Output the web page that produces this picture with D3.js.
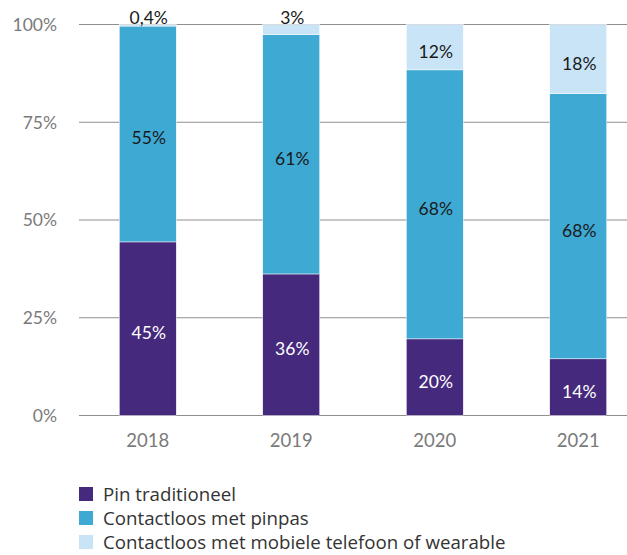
<!DOCTYPE html>
<html><head><meta charset="utf-8">
<script src="https://cdn.jsdelivr.net/npm/d3@7"></script>
<style>body{margin:0;background:#fff;}svg{display:block;}</style>
</head><body>
<svg id="c" width="627" height="555"></svg>
<script>
const years = ["2018", "2019", "2020", "2021"];
const seriesNames = ["Pin traditioneel", "Contactloos met pinpas", "Contactloos met mobiele telefoon of wearable"];
const pinTraditioneel = [44.4, 36.2, 19.6, 14.5];
const contactloosPinpas = [55.2, 61.2, 68.8, 67.8];
const contactloosMobiel = [0.4, 2.6, 11.6, 17.7];
const labelPin = ["45%", "36%", "20%", "14%"];
const labelPinpas = ["55%", "61%", "68%", "68%"];
const labelMobiel = ["0,4%", "3%", "12%", "18%"];
const yTicks = [0, 25, 50, 75, 100];
const colors = ["#45297d", "#3ea9d3", "#c8e4f6"];
const textColors = ["#ffffff", "#1a1a1a", "#1a1a1a"];

const svg = d3.select("#c");
const font = "Lato, 'Open Sans', sans-serif";
const y = d3.scaleLinear().domain([0, 100]).range([415.5, 24.5]);
const x = d3.scaleBand().domain(years).range([76, 650]).paddingInner(0.603).paddingOuter(0.3015);

// gridlines
svg.append("g").selectAll("line").data(yTicks).join("line")
  .attr("x1", 79).attr("x2", 627)
  .attr("y1", d => y(d)).attr("y2", d => y(d))
  .attr("stroke", "#8f8f8f").attr("stroke-width", 1.2);
svg.append("g").selectAll("text").data(yTicks).join("text")
  .attr("x", 57).attr("y", d => y(d)).attr("dy", "0.36em")
  .attr("text-anchor", "end").attr("fill", "#7a7a7a")
  .style("font-family", font).style("font-size", "17.5px")
  .text(d => d + "%");

const rows = years.map((yr, i) => ({year: yr, s0: pinTraditioneel[i], s1: contactloosPinpas[i], s2: contactloosMobiel[i]}));
const labels = [labelPin, labelPinpas, labelMobiel];
const stack = d3.stack().keys(["s0", "s1", "s2"])(rows);

const g = svg.append("g");
stack.forEach((layer, k) => {
  g.append("g").selectAll("rect").data(layer).join("rect")
    .attr("x", d => x(d.data.year)).attr("width", x.bandwidth())
    .attr("y", d => y(d[1])).attr("height", d => y(d[0]) - y(d[1]))
    .attr("fill", colors[k]).attr("stroke", "#ffffff").attr("stroke-width", 0.5);
});
stack.forEach((layer, k) => {
  g.append("g").selectAll("text").data(layer).join("text")
    .attr("x", d => x(d.data.year) + x.bandwidth() / 2 + 1)
    .attr("y", d => (d[1] - d[0]) < 5 ? y(d[1]) - 0.5 : (y(d[0]) + y(d[1])) / 2 + 10.5)
    .attr("text-anchor", "middle")
    .attr("fill", d => (d[1] - d[0]) < 5 ? "#1a1a1a" : textColors[k])
    .style("font-family", font).style("font-size", "17.5px")
    .text((d, i) => labels[k][i]);
});

// x labels
svg.append("g").selectAll("text").data(years).join("text")
  .attr("x", d => x(d) + x.bandwidth() / 2).attr("y", 446.5)
  .attr("text-anchor", "middle").attr("fill", "#7a7a7a")
  .style("font-family", font).style("font-size", "18.5px")
  .text(d => d);

// legend
const lg = svg.append("g").selectAll("g").data(seriesNames).join("g")
  .attr("transform", (d, i) => `translate(79, ${494 + i * 24})`);
lg.append("rect").attr("x", 0).attr("y", -7).attr("width", 14).attr("height", 14)
  .attr("fill", (d, i) => colors[i]);
lg.append("text").attr("x", 24).attr("y", 0).attr("dy", "0.36em")
  .attr("fill", "#333333")
  .style("font-family", "'Open Sans', Lato, sans-serif").style("font-size", "18.7px")
  .text(d => d);
</script>
</body></html>
